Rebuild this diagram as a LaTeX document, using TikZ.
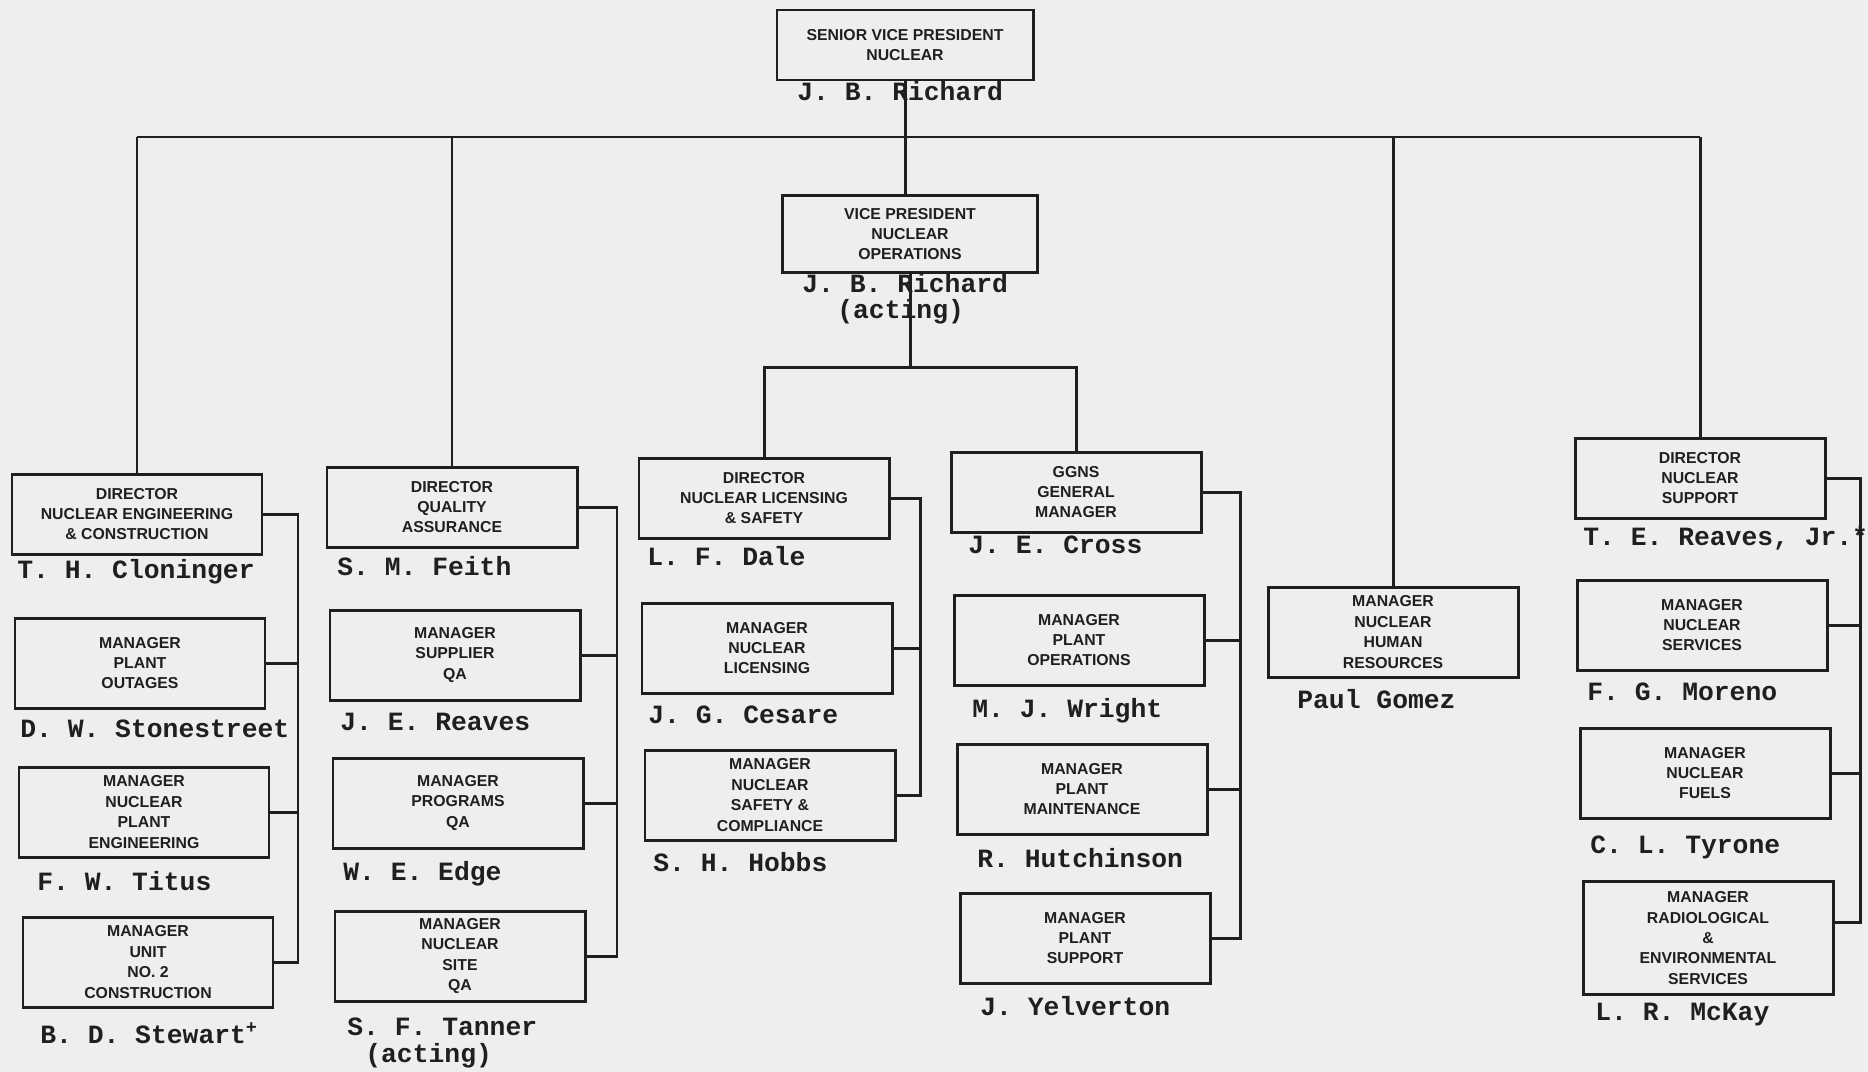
\documentclass[tikz,border=0pt]{standalone}
\usepackage{fontspec}
\newfontfamily\boxfont{Liberation Sans}
\newfontfamily\namefont{Liberation Mono}
\definecolor{paper}{gray}{0.935}
\definecolor{ink}{gray}{0.12}

\begin{document}
\begin{tikzpicture}[x=0.2mm,y=-0.2mm,
    box/.style={draw=ink,line width=1.7pt,minimum width=50mm,minimum height=18mm,
      align=center,inner sep=2pt,text=ink,font=\boxfont\bfseries\fontsize{9}{11.6}\selectfont},
    dirbox/.style={box,minimum height=16mm},
    who/.style={anchor=base west,inner sep=0pt,text=ink,font=\namefont\bfseries\fontsize{15}{18}\selectfont},
    wire/.style={draw=ink,line width=1.7pt}]
  \fill[paper] (0,0) rectangle (1868,1072);
  \useasboundingbox (0,0) rectangle (1868,1072);

  % top of the chart
  \node[box,minimum width=51.2mm,minimum height=14mm] (svp) at (905,45) {SENIOR VICE PRESIDENT\\NUCLEAR};
  \node[who] (svp-who) at (797,100) {J. B. Richard};
  \node[box,minimum width=51mm,minimum height=15.4mm] (vp) at (910,234) {VICE PRESIDENT\\NUCLEAR\\OPERATIONS};
  \node[who] (vp-who) at (802,292) {J. B. Richard};
  \node[who] (vp-act) at (837,318) {(acting)};

  % engineering & construction
  \node[dirbox] (nec) at (137,514) {DIRECTOR\\NUCLEAR ENGINEERING\\\& CONSTRUCTION};
  \node[who] (nec-who) at (17,578) {T. H. Cloninger};
  \node[box] (pout) at (140,663) {MANAGER\\PLANT\\OUTAGES};
  \node[who] (pout-who) at (20,737) {D. W. Stonestreet};
  \node[box] (npe) at (144,812) {MANAGER\\NUCLEAR\\PLANT\\ENGINEERING};
  \node[who] (npe-who) at (37,890) {F. W. Titus};
  \node[box] (unit2) at (148,962) {MANAGER\\UNIT\\NO. 2\\CONSTRUCTION};
  \node[who] (unit2-who) at (40,1043) {B. D. Stewart\textsuperscript{+}};

  % quality assurance
  \node[dirbox] (qa) at (452,507) {DIRECTOR\\QUALITY\\ASSURANCE};
  \node[who] (qa-who) at (337,575) {S. M. Feith};
  \node[box] (sqa) at (455,655) {MANAGER\\SUPPLIER\\QA};
  \node[who] (sqa-who) at (340,730) {J. E. Reaves};
  \node[box] (pqa) at (458,803) {MANAGER\\PROGRAMS\\QA};
  \node[who] (pqa-who) at (343,880) {W. E. Edge};
  \node[box] (siteqa) at (460,956) {MANAGER\\NUCLEAR\\SITE\\QA};
  \node[who] (siteqa-who) at (347,1035) {S. F. Tanner};
  \node[who] (siteqa-act) at (365,1062) {(acting)};

  % licensing & safety
  \node[dirbox] (nls) at (764,498) {DIRECTOR\\NUCLEAR LICENSING\\\& SAFETY};
  \node[who] (nls-who) at (647,565) {L. F. Dale};
  \node[box] (nlic) at (767,648) {MANAGER\\NUCLEAR\\LICENSING};
  \node[who] (nlic-who) at (648,723) {J. G. Cesare};
  \node[box] (nsc) at (770,795) {MANAGER\\NUCLEAR\\SAFETY \&\\COMPLIANCE};
  \node[who] (nsc-who) at (653,871) {S. H. Hobbs};

  % plant
  \node[dirbox] (ggns) at (1076,492) {GGNS\\GENERAL\\MANAGER};
  \node[who] (ggns-who) at (968,553) {J. E. Cross};
  \node[box] (pops) at (1079,640) {MANAGER\\PLANT\\OPERATIONS};
  \node[who] (pops-who) at (972,717) {M. J. Wright};
  \node[box] (pmnt) at (1082,789) {MANAGER\\PLANT\\MAINTENANCE};
  \node[who] (pmnt-who) at (977,867) {R. Hutchinson};
  \node[box] (psup) at (1085,938) {MANAGER\\PLANT\\SUPPORT};
  \node[who] (psup-who) at (980,1015) {J. Yelverton};

  % human resources
  \node[box] (nhr) at (1393,632) {MANAGER\\NUCLEAR\\HUMAN\\RESOURCES};
  \node[who] (nhr-who) at (1297,708) {Paul Gomez};

  % nuclear support
  \node[dirbox] (nsup) at (1700,478) {DIRECTOR\\NUCLEAR\\SUPPORT};
  \node[who] (nsup-who) at (1583,545) {T. E. Reaves, Jr.*};
  \node[box] (nsrv) at (1702,625) {MANAGER\\NUCLEAR\\SERVICES};
  \node[who] (nsrv-who) at (1587,700) {F. G. Moreno};
  \node[box] (fuel) at (1705,773) {MANAGER\\NUCLEAR\\FUELS};
  \node[who] (fuel-who) at (1590,853) {C. L. Tyrone};
  \node[box,minimum height=22.6mm] (rad) at (1708,938) {MANAGER\\RADIOLOGICAL\\\&\\ENVIRONMENTAL\\SERVICES};
  \node[who] (rad-who) at (1595,1020) {L. R. McKay};

  % lines
  \coordinate (bus) at (0,137);
  \coordinate (fork) at (0,367);
  \draw[wire] (svp.south) -- (svp.south |- vp.north);
  \draw[wire] (nec.north |- bus) -- (nsup.north |- bus);
  \foreach \d in {nec,qa,nhr,nsup}
    \draw[wire] (\d.north) -- (\d.north |- bus);
  \draw[wire] (vp.south) -- (vp.south |- fork);
  \draw[wire] (nls.north) |- (ggns.north |- fork) -- (ggns.north);

  \coordinate (rail1) at (298,0);
  \coordinate (rail2) at (617,0);
  \coordinate (rail3) at (920,0);
  \coordinate (rail4) at (1240,0);
  \coordinate (rail6) at (1860,0);
  \coordinate (radtap) at ([yshift=3.2mm]rad.east);
  \draw[wire] (nec.east) -| (rail1 |- unit2.east) -- (unit2.east);
  \foreach \m in {pout,npe}
    \draw[wire] (\m.east) -- (\m.east -| rail1);
  \draw[wire] (qa.east) -| (rail2 |- siteqa.east) -- (siteqa.east);
  \foreach \m in {sqa,pqa}
    \draw[wire] (\m.east) -- (\m.east -| rail2);
  \draw[wire] (nls.east) -| (rail3 |- nsc.east) -- (nsc.east);
  \draw[wire] (nlic.east) -- (nlic.east -| rail3);
  \draw[wire] (ggns.east) -| (rail4 |- psup.east) -- (psup.east);
  \foreach \m in {pops,pmnt}
    \draw[wire] (\m.east) -- (\m.east -| rail4);
  \draw[wire] (nsup.east) -| (rail6 |- radtap) -- (radtap);
  \foreach \m in {nsrv,fuel}
    \draw[wire] (\m.east) -- (\m.east -| rail6);
\end{tikzpicture}
\end{document}
